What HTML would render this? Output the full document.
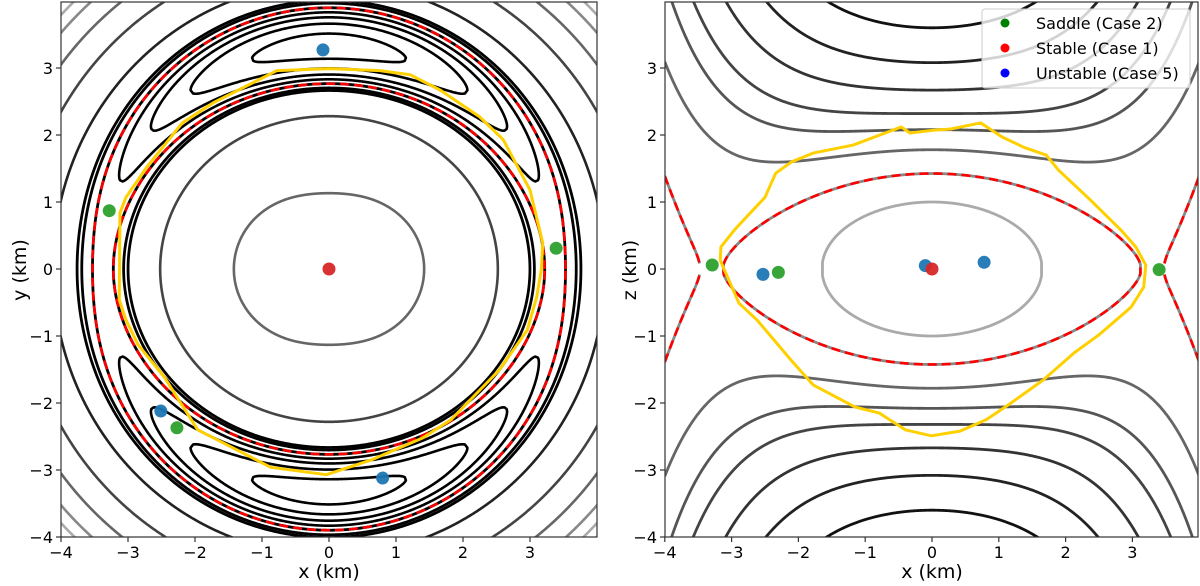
<!DOCTYPE html>
<html><head><meta charset="utf-8"><style>
html,body{margin:0;padding:0;background:#fff;overflow:hidden;}
svg{display:block;font-family:"DejaVu Sans","Liberation Sans",sans-serif;}
</style></head><body>
<svg id="fig" width="1200" height="586" viewBox="0 0 1200 586" xmlns="http://www.w3.org/2000/svg">
<defs>
<clipPath id="clipL"><rect x="61" y="2" width="536" height="535"/></clipPath>
<clipPath id="clipR"><rect x="665" y="2" width="533" height="535"/></clipPath>
</defs>
<rect x="61" y="2" width="536" height="535" fill="#fff"/>
<rect x="665" y="2" width="533" height="535" fill="#fff"/>
<g id="gL" clip-path="url(#clipL)"></g>
<g id="gR" clip-path="url(#clipR)"></g>
<g id="axes"></g>
<g>
<rect x="982" y="9" width="208" height="79" rx="3" fill="#fff" fill-opacity="0.8" stroke="#ccc"/>
<circle cx="1005" cy="23" r="4.5" fill="#008000"/>
<text x="1036" y="29" font-size="16">Saddle (Case 2)</text>
<circle cx="1005" cy="48" r="4.5" fill="#ff0000"/>
<text x="1036" y="54" font-size="16">Stable (Case 1)</text>
<circle cx="1005" cy="73" r="4.5" fill="#0000ff"/>
<text x="1036" y="79" font-size="16">Unstable (Case 5)</text>
</g>
</svg>
<script>
// ---------- data ----------
const ringRadii180 = [3.53, 3.69, 3.76];
const outerRadii180 = [4.12, 4.61, 5.0, 5.3, 5.48, 5.62];
const innerRadii180 = [2.52, 1.42];
const bananaFrac = [0.12, 0.38, 0.62, 0.85];
const zIntercepts = [3.6, 3.08, 2.67, 2.32, 2.08, 1.78, 1.425, 1.0];
const trajXYx = [0.01,-0.78,-1.73,-2.19,-2.72,-3.03,-3.12,-3.13,-3.03,-2.85,-2.46,-1.96,-0.87,-0.04,0.63,1.40,1.82,2.54,2.96,3.10,3.17,3.19,3.0,2.6,2.25,1.66,1.21,0.76,0.01];
const trajXYy = [2.99,2.96,2.48,2.18,1.52,1.07,0.84,-0.46,-0.76,-1.13,-1.61,-2.40,-2.96,-3.07,-2.85,-2.52,-2.25,-1.51,-0.91,-0.42,0.0,0.39,1.18,1.93,2.27,2.67,2.90,2.96,2.99];
const trajXZx = [-3.17,-2.89,-2.62,-2.11,-1.78,-1.15,-0.79,-0.40,-0.01,0.42,0.81,1.14,1.66,2.13,2.49,2.98,3.17,3.20,3.05,2.83,2.37,1.89,1.71,1.39,1.05,0.73,0.28,0.01,-0.33,-0.46,-1.18,-1.78,-2.10,-2.34,-2.50,-2.68,-2.96,-3.16,-3.17];
const trajXZz = [0.13,-0.51,-0.76,-1.36,-1.73,-2.06,-2.15,-2.40,-2.49,-2.42,-2.25,-2.03,-1.66,-1.25,-0.99,-0.57,-0.27,0.06,0.33,0.58,1.03,1.48,1.70,1.81,1.97,2.18,2.09,2.07,2.03,2.12,1.85,1.73,1.60,1.43,1.07,0.88,0.58,0.33,0.13];
const saddleXYx = [-3.28, 3.39, -2.27], saddleXYy = [0.87, 0.31, -2.37];
const unstableXYx = [-0.09, -2.51, 0.80], unstableXYy = [3.27, -2.12, -3.12];
const stableXYx = [0.0], stableXYy = [0.0];
const saddleXZx = [-3.29, -2.30, 3.40], saddleXZz = [0.06, -0.05, -0.01];
const unstableXZx = [-2.53, -0.10, 0.78], unstableXZz = [-0.08, 0.05, 0.10];
const stableXZx = [0.0], stableXZz = [0.0];
const ticks = [-4,-3,-2,-1,0,1,2,3];

// ---------- styles ----------
const ringColors = ['#000','#000','#000'];
const outerColors = ['#222','#444','#666','#888','#aaa','#ccc'];
const innerColors = ['#444','#666'];
const zColors = ['#111','#222','#333','#444','#555','#666','#888','#aaa'];

// ---------- scales ----------
const LX = x => 329 + 67*x, LY = y => 269 - 67*y;
const RX = x => 932 + 66.8*x, RY = z => 269 - 67*z;
const NS = 'http://www.w3.org/2000/svg';
const gL = document.getElementById('gL'), gR = document.getElementById('gR'), gA = document.getElementById('axes');

// ---------- models ----------
const MU = 59.4, C0 = 4, AQ = 0.83, BQ = 0.13, PHI = 0;
function JL(r,t){ return 0.5*r*r + MU/Math.sqrt(r*r+C0) + AQ*Math.cos(2*t)*Math.exp(-(r/1.8)*(r/1.8)) + BQ*Math.cos(2*(t-PHI)); }
const aR = 0.012476, pR = 3, kR = 0.5966, cR = 2, bR = 0.00077;
function JR(x,z){ return aR*x*x + 1/Math.sqrt(x*x/pR + kR*z*z + cR) + bR*x*x*z*z/(1+0.3*z*z); }

function clampPt(px,py,x0,x1){
  px = Math.max(x0, Math.min(x1, px)); py = Math.max(-3, Math.min(542, py));
  return px.toFixed(2)+','+py.toFixed(2);
}
function pathEl(parent, d, stroke, w, name, dash){
  const el = document.createElementNS(NS,'path');
  
  
  el.setAttribute('d', d); el.setAttribute('fill','none');
  el.setAttribute('stroke', stroke); el.setAttribute('stroke-width', w);
  el.setAttribute('stroke-linejoin','round');
  if (dash) el.setAttribute('stroke-dasharray', dash);
  parent.appendChild(el); return el;
}

// ---------- left contours ----------
const NT = 1440;
const thetas = [], rmins = [], jmins = [];
for (let i=0;i<NT;i++){
  const t = 2*Math.PI*i/NT; thetas.push(t);
  let lo=1.5, hi=5.5;
  for (let k=0;k<60;k++){ const m1=lo+(hi-lo)/3, m2=hi-(hi-lo)/3; if (JL(m1,t)<JL(m2,t)) hi=m2; else lo=m1; }
  const rm=(lo+hi)/2; rmins.push(rm); jmins.push(JL(rm,t));
}
function rootIn(t,L,rm){ let lo=0.02, hi=rm; for(let k=0;k<45;k++){const m=(lo+hi)/2; if(JL(m,t)>L) lo=m; else hi=m;} return (lo+hi)/2; }
function rootOut(t,L,rm){ let lo=rm, hi=14; for(let k=0;k<45;k++){const m=(lo+hi)/2; if(JL(m,t)<L) lo=m; else hi=m;} return (lo+hi)/2; }
function ptL(r,t){ return clampPt(LX(r*Math.cos(t)), LY(r*Math.sin(t)), 56, 602); }
function levelPathsL(L, branch){
  const ok = jmins.map(j => j < L);
  const paths = [];
  if (ok.every(v=>v)){
    if (branch!=='outer'){ let d=''; for(let i=0;i<NT;i++) d+=(i?'L':'M')+ptL(rootIn(thetas[i],L,rmins[i]),thetas[i]); paths.push(d+'Z'); }
    if (branch!=='inner'){ let d=''; for(let i=0;i<NT;i++) d+=(i?'L':'M')+ptL(rootOut(thetas[i],L,rmins[i]),thetas[i]); paths.push(d+'Z'); }
    return paths;
  }
  let s = ok.indexOf(false);
  let run = [];
  const flush = () => {
    if (!run.length) return;
    let d='';
    run.forEach((i,n)=>{ d+=(n?'L':'M')+ptL(rootIn(thetas[i],L,rmins[i]),thetas[i]); });
    for (let n=run.length-1;n>=0;n--){ const i=run[n]; d+='L'+ptL(rootOut(thetas[i],L,rmins[i]),thetas[i]); }
    paths.push(d+'Z'); run=[];
  };
  for (let n=1;n<=NT;n++){ const i=(s+n)%NT; if (ok[i]) run.push(i); else flush(); }
  flush();
  return paths;
}
const jminLow = Math.min(...jmins), jminHigh = Math.max(...jmins);
outerRadii180.forEach((r,i)=>{
  levelPathsL(JL(r,Math.PI),'outer').forEach(d=>pathEl(gL,d,outerColors[i],2.6,'xy-outer-contour'));
});
innerRadii180.forEach((r,i)=>{
  levelPathsL(JL(r,Math.PI),'inner').forEach(d=>pathEl(gL,d,innerColors[i],2.6,'xy-inner-contour'));
});
bananaFrac.forEach(f=>{
  const L = jminLow + f*(jminHigh-jminLow);
  levelPathsL(L,'both').forEach(d=>pathEl(gL,d,'#000',2.6,'xy-banana-contour'));
});
ringRadii180.forEach((r,i)=>{
  levelPathsL(JL(r,Math.PI),'both').forEach(d=>{
    pathEl(gL,d,ringColors[i],2.8,i===0?'xy-zero-velocity-curve':'xy-ring-contour');
    if (i===0) pathEl(gL,d,'#ff0000',2.6,'xy-zero-velocity-dash','9 5');
  });
});

// ---------- right contours ----------
const XS = []; for (let x=-4.0; x<=4.0001; x+=0.01) XS.push(x);
const ZMAX = 4.1;
function rootZ(x,L){ if (JR(x,ZMAX)>L) return ZMAX; let lo=0, hi=ZMAX; for(let k=0;k<45;k++){const m=(lo+hi)/2; if(JR(x,m)>L) lo=m; else hi=m;} return (lo+hi)/2; }
function ptR(x,z){ return clampPt(RX(x), RY(z), 660, 1199); }
function levelPathsR(L){
  const ok = XS.map(x => JR(x,0) > L && aR*x*x < L);
  const paths=[]; let run=[];
  const flush=()=>{
    if(!run.length) return;
    const zs = run.map(i=>rootZ(XS[i],L));
    let d='';
    run.forEach((i,n)=>{ d+=(n?'L':'M')+ptR(XS[i],zs[n]); });
    const closed = run[0]>0 && run[run.length-1]<XS.length-1;
    if (closed){
      for(let n=run.length-1;n>=0;n--){ d+='L'+ptR(XS[run[n]],-zs[n]); }
      paths.push(d+'Z');
    } else {
      paths.push(d);
      let d2='';
      run.forEach((i,n)=>{ d2+=(n?'L':'M')+ptR(XS[i],-zs[n]); });
      paths.push(d2);
    }
    run=[];
  };
  for(let i=0;i<XS.length;i++){ if(ok[i]) run.push(i); else flush(); }
  flush();
  return paths;
}
zIntercepts.forEach((z0,i)=>{
  const L = JR(0,z0);
  const sep = (i===6);
  levelPathsR(L).forEach(d=>{
    pathEl(gR,d,zColors[i],2.8,sep?'xz-zero-velocity-curve':'xz-contour');
    if (sep) pathEl(gR,d,'#ff0000',2.6,'xz-zero-velocity-dash','9 5');
  });
});

// ---------- trajectories ----------
function polyD(xs,ys,fx,fy){ return xs.map((x,i)=>(i?'L':'M')+fx(x).toFixed(2)+','+fy(ys[i]).toFixed(2)).join(''); }
pathEl(gL, polyD(trajXYx,trajXYy,LX,LY), '#ffd000', 3, 'xy-trajectory');
pathEl(gR, polyD(trajXZx,trajXZz,RX,RY), '#ffd000', 3, 'xz-trajectory');

// ---------- points ----------
function dots(parent,xs,ys,fx,fy,color,name){
  xs.forEach((x,i)=>{
    const c=document.createElementNS(NS,'circle');
    
    
    c.setAttribute('cx',fx(x)); c.setAttribute('cy',fy(ys[i])); c.setAttribute('r',6.5);
    c.setAttribute('fill',color); c.setAttribute('fill-opacity','0.95');
    parent.appendChild(c);
  });
}
dots(gL,stableXYx,stableXYy,LX,LY,'#d62728','xy-stable-point');
dots(gL,saddleXYx,saddleXYy,LX,LY,'#2ca02c','xy-saddle-point');
dots(gL,unstableXYx,unstableXYy,LX,LY,'#1f77b4','xy-unstable-point');
dots(gR,unstableXZx,unstableXZz,RX,RY,'#1f77b4','xz-unstable-point');
dots(gR,stableXZx,stableXZz,RX,RY,'#d62728','xz-stable-point');
dots(gR,saddleXZx,saddleXZz,RX,RY,'#2ca02c','xz-saddle-point');

// ---------- axes ----------
function line(x1,y1,x2,y2,name){
  const l=document.createElementNS(NS,'line');
  
  
  l.setAttribute('x1',x1);l.setAttribute('y1',y1);l.setAttribute('x2',x2);l.setAttribute('y2',y2);
  l.setAttribute('stroke','#333');l.setAttribute('stroke-width',1.2);
  gA.appendChild(l);
}
function text(x,y,s,anchor,size,name,rot){
  const t=document.createElementNS(NS,'text');
  
  
  t.setAttribute('x',x);t.setAttribute('y',y);t.setAttribute('text-anchor',anchor);t.setAttribute('font-size',size);
  if(rot) t.setAttribute('transform','rotate(-90 '+x+' '+y+')');
  t.textContent=s; gA.appendChild(t);
}
const fmt = v => v<0 ? '\u2212'+Math.abs(v) : String(v);
[[61,597,LX,'left'],[665,1198,RX,'right']].forEach(([x0,x1,fx,side])=>{
  const f=document.createElementNS(NS,'rect');
  
  
  f.setAttribute('x',x0);f.setAttribute('y',2);f.setAttribute('width',x1-x0);f.setAttribute('height',535);
  f.setAttribute('fill','none');f.setAttribute('stroke','#333');f.setAttribute('stroke-width',1.2);
  gA.appendChild(f);
  ticks.forEach(v=>{
    line(fx(v),537,fx(v),542,side+'-x-tick');
    text(fx(v),558,fmt(v),'middle',16,side+'-x-tick-label');
    line(x0-5,LY(v),x0,LY(v),side+'-y-tick');
    text(x0-8,LY(v)+6,fmt(v),'end',16,side+'-y-tick-label');
  });
});
text(329,578,'x (km)','middle',19,'left-x-axis-title');
text(932,578,'x (km)','middle',19,'right-x-axis-title');
text(26,270,'y (km)','middle',19,'left-y-axis-title',true);
text(636,270,'z (km)','middle',19,'right-y-axis-title',true);
</script>
</body></html>
